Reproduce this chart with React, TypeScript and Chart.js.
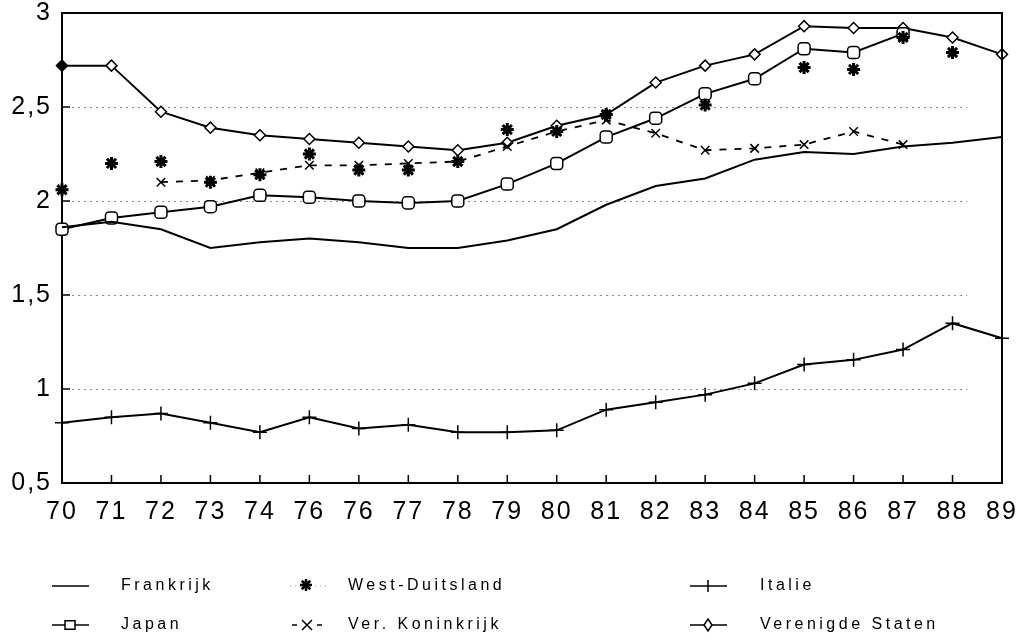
import React, { useEffect, useRef } from "react";
import { Chart, registerables } from "chart.js";

Chart.register(...registerables);

const categories = ["70", "71", "72", "73", "74", "76", "76", "77", "78", "79", "80", "81", "82", "83", "84", "85", "86", "87", "88", "89"];

const frankrijk = [1.86, 1.89, 1.85, 1.75, 1.78, 1.8, 1.78, 1.75, 1.75, 1.79, 1.85, 1.98, 2.08, 2.12, 2.22, 2.26, 2.25, 2.29, 2.31, 2.34];
const westDuitsland = [2.06, 2.2, 2.21, 2.1, 2.14, 2.25, 2.165, 2.165, 2.21, 2.38, 2.37, 2.46, null, 2.51, null, 2.71, 2.7, 2.87, 2.79, null];
const italie = [0.82, 0.85, 0.87, 0.82, 0.77, 0.85, 0.79, 0.81, 0.77, 0.77, 0.78, 0.89, 0.93, 0.97, 1.03, 1.13, 1.155, 1.21, 1.35, 1.27];
const japan = [1.85, 1.91, 1.94, 1.97, 2.03, 2.02, 2.0, 1.99, 2.0, 2.09, 2.2, 2.34, 2.44, 2.57, 2.65, 2.81, 2.79, 2.89, null, null];
const verKoninkrijk = [null, null, 2.1, 2.11, 2.15, 2.19, 2.19, 2.2, 2.21, 2.29, 2.37, 2.43, 2.36, 2.27, 2.28, 2.3, 2.37, 2.3, null, null];
const verenigdeStaten = [2.72, 2.72, 2.475, 2.39, 2.35, 2.33, 2.31, 2.29, 2.27, 2.31, 2.4, 2.46, 2.63, 2.72, 2.78, 2.93, 2.92, 2.92, 2.87, 2.78];

const seriesNames = ["Frankrijk", "West-Duitsland", "Italie", "Japan", "Ver. Koninkrijk", "Verenigde Staten"];

const yTicks = [0.5, 1, 1.5, 2, 2.5, 3];
const yTickLabels = ["0,5", "1", "1,5", "2", "2,5", "3"];

const FONT = "'Liberation Sans', Arial, sans-serif";

function drawMarker(ctx: CanvasRenderingContext2D, kind: string, x: number, y: number, r: number) {
  ctx.save();
  ctx.strokeStyle = "#000";
  ctx.fillStyle = "#fff";
  ctx.lineWidth = 1.5;
  ctx.setLineDash([]);
  ctx.beginPath();
  if (kind === "square") {
    ctx.rect(x - r, y - r * 0.85, 2 * r, 1.7 * r);
    ctx.fill();
    ctx.stroke();
  } else if (kind === "diamond") {
    ctx.moveTo(x, y - r * 1.2);
    ctx.lineTo(x + r * 0.8, y);
    ctx.lineTo(x, y + r * 1.2);
    ctx.lineTo(x - r * 0.8, y);
    ctx.closePath();
    ctx.fill();
    ctx.stroke();
  } else if (kind === "star") {
    ctx.lineWidth = 2.5;
    for (let i = 0; i < 4; i++) {
      const a = (i * Math.PI) / 4;
      ctx.moveTo(x - Math.cos(a) * r, y - Math.sin(a) * r);
      ctx.lineTo(x + Math.cos(a) * r, y + Math.sin(a) * r);
    }
    ctx.stroke();
  } else if (kind === "x") {
    ctx.moveTo(x - r, y - r);
    ctx.lineTo(x + r, y + r);
    ctx.moveTo(x + r, y - r);
    ctx.lineTo(x - r, y + r);
    ctx.stroke();
  } else if (kind === "plus") {
    ctx.moveTo(x, y - r);
    ctx.lineTo(x, y + r);
    ctx.stroke();
  }
  ctx.restore();
}

const framePlugin = {
  id: "framePlugin",
  beforeDraw(chart: any) {
    (chart.ctx as any).letterSpacing = "2px";
  },
  beforeDatasetsDraw(chart: any) {
    const { ctx, chartArea } = chart;
    const y = chart.scales.y;
    ctx.save();
    ctx.strokeStyle = "#8a8a8a";
    ctx.lineWidth = 1;
    ctx.setLineDash([2, 4]);
    yTicks.forEach((v) => {
      if (v <= 0.5 || v >= 3) return;
      const py = Math.round(y.getPixelForValue(v)) + 0.5;
      ctx.beginPath();
      ctx.moveTo(chartArea.left + 10, py);
      ctx.lineTo(chartArea.right - 35, py);
      ctx.stroke();
    });
    ctx.restore();
  },
  afterDatasetsDraw(chart: any) {
    const { ctx, chartArea } = chart;
    const x = chart.scales.x;
    const y = chart.scales.y;
    ctx.save();
    ctx.strokeStyle = "#000";
    ctx.lineWidth = 2;
    ctx.setLineDash([]);
    ctx.beginPath();
    ctx.moveTo(chartArea.left, chartArea.top);
    ctx.lineTo(chartArea.right, chartArea.top);
    ctx.lineTo(chartArea.right, chartArea.bottom);
    ctx.stroke();
    ctx.lineWidth = 1.5;
    ctx.beginPath();
    for (let i = 1; i < categories.length - 1; i++) {
      const px = x.getPixelForValue(i);
      ctx.moveTo(px, chartArea.bottom);
      ctx.lineTo(px, chartArea.bottom - 8);
    }
    yTicks.forEach((v) => {
      if (v <= 0.5 || v >= 3) return;
      const py = y.getPixelForValue(v);
      ctx.moveTo(chartArea.left, py);
      ctx.lineTo(chartArea.left + 8, py);
    });
    ctx.stroke();
    ctx.restore();
  },
  afterDraw(chart: any) {
    const ctx = chart.ctx as CanvasRenderingContext2D;
    (ctx as any).letterSpacing = "3.5px";
    const sampleX = [52, 290, 690];
    const textX = [121, 348, 760];
    const rowY = [586, 625];
    const kinds = ["line", "star", "plus", "square", "x", "diamond"];
    ctx.save();
    ctx.font = `16px ${FONT}`;
    ctx.fillStyle = "#000";
    ctx.textBaseline = "middle";
    ctx.textAlign = "left";
    seriesNames.forEach((name, i) => {
      const col = i % 3;
      const row = Math.floor(i / 3);
      const sx = sampleX[col];
      const yy = rowY[row];
      const kind = kinds[i];
      ctx.strokeStyle = "#000";
      ctx.lineWidth = 1.5;
      if (kind === "star") {
        ctx.save();
        ctx.strokeStyle = "#999";
        ctx.lineWidth = 1;
        ctx.setLineDash([1, 4]);
        ctx.beginPath();
        ctx.moveTo(sx, yy);
        ctx.lineTo(sx + 36, yy);
        ctx.stroke();
        ctx.restore();
        drawMarker(ctx, "star", sx + 16, yy - 1, 6);
      } else if (kind === "x") {
        ctx.beginPath();
        ctx.moveTo(sx + 2, yy);
        ctx.lineTo(sx + 7, yy);
        ctx.moveTo(sx + 27, yy);
        ctx.lineTo(sx + 32, yy);
        ctx.stroke();
        drawMarker(ctx, "x", sx + 17, yy, 5);
      } else {
        ctx.beginPath();
        ctx.moveTo(sx, yy);
        ctx.lineTo(sx + 37, yy);
        ctx.stroke();
        if (kind !== "line") drawMarker(ctx, kind, sx + 18, yy, kind === "plus" ? 6 : 5);
      }
      ctx.fillText(name, textX[col], yy);
    });
    ctx.restore();
    (ctx as any).letterSpacing = "0px";
  },
};

export default function App() {
  const canvasRef = useRef<HTMLCanvasElement | null>(null);

  useEffect(() => {
    document.body.style.margin = "0";
    const canvas = canvasRef.current;
    if (!canvas) return;
    const base = {
      borderColor: "#000",
      pointBorderColor: "#000",
      pointBackgroundColor: "#fff",
      borderWidth: 2,
      tension: 0,
      spanGaps: false,
    };
    const chart = new Chart(canvas, {
      type: "line",
      data: {
        labels: categories,
        datasets: [
          { ...base, label: seriesNames[0], data: frankrijk, pointRadius: 0 },
          {
            ...base,
            label: seriesNames[1],
            data: westDuitsland,
            showLine: false,
            pointStyle: "star",
            pointRadius: 6.5,
            pointBorderWidth: 3,
          },
          {
            ...base,
            label: seriesNames[2],
            data: italie,
            pointStyle: "cross",
            pointRadius: 7,
            pointBorderWidth: 1.5,
          },
          {
            ...base,
            label: seriesNames[3],
            data: japan,
            pointStyle: "rectRounded",
            pointRadius: 7,
            pointBorderWidth: 1.5,
          },
          {
            ...base,
            label: seriesNames[4],
            data: verKoninkrijk,
            borderWidth: 1.8,
            borderDash: [7, 8],
            pointStyle: "crossRot",
            pointRadius: 6,
            pointBorderWidth: 1.5,
          },
          {
            ...base,
            label: seriesNames[5],
            data: verenigdeStaten,
            pointStyle: "rectRot",
            pointRadius: 5.5,
            pointBorderWidth: 1.5,
            pointBackgroundColor: (c: any) => (c.dataIndex === 0 ? "#000" : "#fff"),
          },
        ],
      },
      options: {
        responsive: false,
        animation: false,
        devicePixelRatio: 1,
        layout: { padding: { left: 8, right: 18, top: 13, bottom: 0 } },
        plugins: {
          legend: { display: false },
          tooltip: { enabled: false },
        },
        scales: {
          x: {
            type: "category",
            offset: false,
            grid: { display: false, drawTicks: false },
            border: { display: true, color: "#000", width: 2 },
            ticks: {
              font: { family: FONT, size: 25 },
              color: "#000",
              padding: 14,
              maxRotation: 0,
              autoSkip: false,
            },
            afterFit: (s: any) => {
              s.height = 159;
              s.paddingLeft = 0;
              s.paddingRight = 0;
            },
          },
          y: {
            min: 0.5,
            max: 3,
            grid: { display: false, drawTicks: false },
            border: { display: true, color: "#000", width: 2 },
            ticks: {
              font: { family: FONT, size: 25 },
              color: "#000",
              padding: 10,
              callback: (_v: any, i: number) => yTickLabels[i],
            },
            afterBuildTicks: (s: any) => {
              s.ticks = yTicks.map((v) => ({ value: v }));
            },
            afterFit: (s: any) => {
              s.width = 54;
              s.paddingTop = 0;
              s.paddingBottom = 0;
            },
          },
        },
      },
      plugins: [framePlugin],
    } as any);
    return () => chart.destroy();
  }, []);

  return (
    <div style={{ width: 1020, height: 642, background: "#fff" }}>
      <canvas ref={canvasRef} width={1020} height={642} style={{ display: "block" }} />
    </div>
  );
}
